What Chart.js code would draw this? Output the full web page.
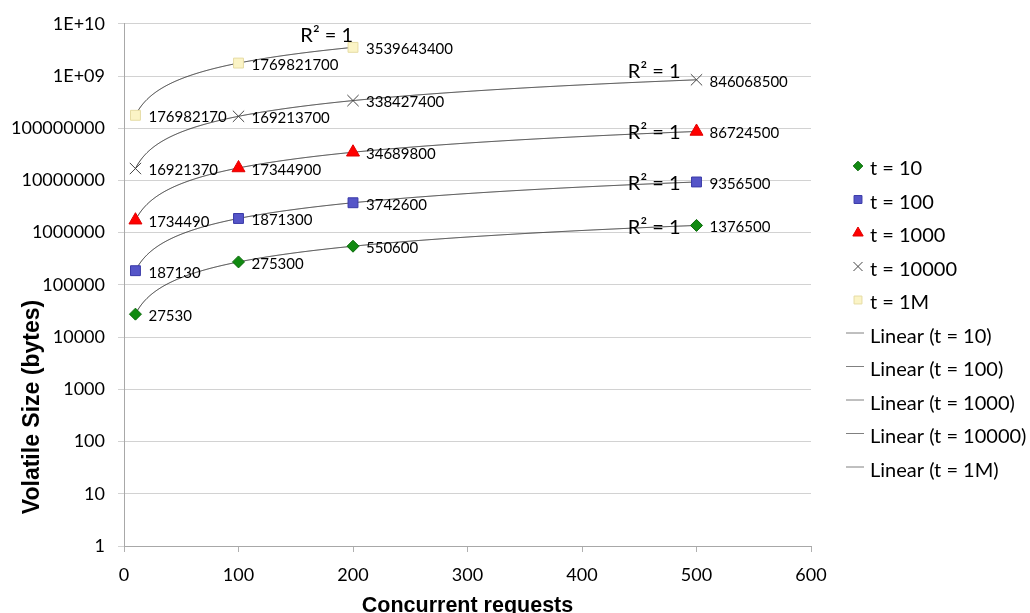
<!DOCTYPE html>
<html><head><meta charset="utf-8">
<script src="https://cdn.jsdelivr.net/npm/chart.js@4"></script>
<style>html,body{margin:0;padding:0;background:#fff}#wrap{width:1030px;height:613px}</style>
</head><body><div id="wrap"><canvas id="c" width="1030" height="613"></canvas></div>
<script>
// ---- data ----
const seriesNames = ['t = 10', 't = 100', 't = 1000', 't = 10000', 't = 1M'];
const trendNames = ['Linear (t = 10)', 'Linear (t = 100)', 'Linear (t = 1000)', 'Linear (t = 10000)', 'Linear (t = 1M)'];
const xValues = [10, 100, 200, 500];
const xValues1M = [10, 100, 200];
const t10 = [27530, 275300, 550600, 1376500];
const t100 = [187130, 1871300, 3742600, 9356500];
const t1000 = [1734490, 17344900, 34689800, 86724500];
const t10000 = [16921370, 169213700, 338427400, 846068500];
const t1M = [176982170, 1769821700, 3539643400];
const yTickValues = [1, 10, 100, 1000, 10000, 100000, 1000000, 10000000, 100000000, 1000000000, 10000000000];
const yTickLabels = ['1', '10', '100', '1000', '10000', '100000', '1000000', '10000000', '100000000', '1E+09', '1E+10'];
const rSquaredLabel = 'R\u00B2 = 1';

// ---- styles ----
const FONT = 'Lato, "Open Sans", sans-serif';
const styles = [
  {pointStyle: 'rectRot', radius: 6, bg: '#118a11', border: '#0a6a0a', lw: 1},
  {pointStyle: 'rect', radius: 7, bg: '#5555c8', border: '#3a3aa8', lw: 1},
  {pointStyle: 'triangle', radius: 7.5, bg: '#ff0000', border: '#e00000', lw: 1},
  {pointStyle: 'crossRot', radius: 8, bg: '#444444', border: '#444444', lw: 1},
  {pointStyle: 'rect', radius: 7, bg: '#fbf4c6', border: '#e6dca4', lw: 1}
];
const r2Offsets = [[-16, 2], [-16, 2], [-16, 1], [-16, -8], [0, -12]];

const xsList = [xValues, xValues, xValues, xValues, xValues1M];
const ysList = [t10, t100, t1000, t10000, t1M];

const datasets = ysList.map((ys, i) => ({
  label: seriesNames[i],
  data: ys.map((v, j) => ({x: xsList[i][j], y: v})),
  pointStyle: styles[i].pointStyle,
  pointRadius: styles[i].radius,
  pointHoverRadius: styles[i].radius,
  backgroundColor: styles[i].bg,
  borderColor: styles[i].border,
  pointBorderWidth: styles[i].lw,
  showLine: false
}));

function fitLinear(xs, ys) {
  const n = xs.length;
  let sx = 0, sy = 0, sxx = 0, sxy = 0;
  for (let i = 0; i < n; i++) { sx += xs[i]; sy += ys[i]; sxx += xs[i] * xs[i]; sxy += xs[i] * ys[i]; }
  const a = (n * sxy - sx * sy) / (n * sxx - sx * sx);
  const b = (sy - a * sx) / n;
  return {a, b};
}

function drawMarker(ctx, st, x, y, r) {
  ctx.save();
  ctx.fillStyle = st.bg; ctx.strokeStyle = st.border; ctx.lineWidth = st.lw;
  Chart.helpers.drawPoint(ctx, {pointStyle: st.pointStyle, rotation: 0, radius: r, borderWidth: st.lw}, x, y);
  ctx.restore();
}

const extras = {
  id: 'extras',
  beforeDatasetsDraw(chart) {
    const ctx = chart.ctx, xs = chart.scales.x, ysc = chart.scales.y;
    ctx.save();
    ctx.beginPath();
    ctx.rect(chart.chartArea.left, chart.chartArea.top, chart.chartArea.right - chart.chartArea.left, chart.chartArea.bottom - chart.chartArea.top);
    ctx.clip();
    ctx.strokeStyle = '#2a2a2a'; ctx.lineWidth = 1;
    ysList.forEach((ys, i) => {
      const xv = xsList[i];
      const f = fitLinear(xv, ys);
      const p0 = xs.getPixelForValue(Math.min(...xv));
      const p1 = xs.getPixelForValue(Math.max(...xv));
      ctx.beginPath();
      for (let px = p0; px <= p1 + 0.01; px += 0.5) {
        const xval = xs.getValueForPixel(px);
        const py = ysc.getPixelForValue(f.a * xval + f.b);
        if (px === p0) ctx.moveTo(px, py); else ctx.lineTo(px, py);
      }
      ctx.stroke();
    });
    ctx.restore();
  },
  afterDatasetsDraw(chart) {
    const ctx = chart.ctx;
    ctx.save();
    // data labels
    ctx.fillStyle = '#000';
    ctx.font = '15px ' + FONT;
    ctx.textBaseline = 'middle';
    ctx.textAlign = 'left';
    chart.data.datasets.forEach((ds, i) => {
      const meta = chart.getDatasetMeta(i);
      meta.data.forEach((pt, j) => {
        ctx.fillText(String(ds.data[j].y), pt.x + 13, pt.y + 2);
      });
    });
    // R² labels
    ctx.font = '20px ' + FONT;
    ctx.textAlign = 'right';
    chart.data.datasets.forEach((ds, i) => {
      const meta = chart.getDatasetMeta(i);
      const last = meta.data[meta.data.length - 1];
      ctx.fillText(rSquaredLabel, last.x + r2Offsets[i][0], last.y + r2Offsets[i][1]);
    });
    // legend
    const lx = 858, tx = 870, ly0 = 169, step = 33.5;
    ctx.font = '20px ' + FONT;
    ctx.textAlign = 'left';
    seriesNames.forEach((name, i) => {
      const y = ly0 + i * step;
      drawMarker(ctx, styles[i], lx, y - 3, styles[i].radius * 0.8);
      ctx.fillStyle = '#000';
      ctx.fillText(name, tx, y);
    });
    trendNames.forEach((name, i) => {
      const y = ly0 + (i + 5) * step;
      ctx.strokeStyle = '#808080'; ctx.lineWidth = 1;
      ctx.beginPath(); ctx.moveTo(846, y - 3.5); ctx.lineTo(864, y - 3.5); ctx.stroke();
      ctx.fillStyle = '#000';
      ctx.fillText(name, tx, y);
    });
    // axis titles
    ctx.textBaseline = 'alphabetic';
    ctx.textAlign = 'center';
    ctx.font = 'bold 21.5px "Liberation Sans", Arial, sans-serif';
    ctx.fillText('Concurrent requests', (chart.chartArea.left + chart.chartArea.right) / 2, 612);
    ctx.font = 'bold 23px "Liberation Sans", Arial, sans-serif';
    ctx.translate(39, 407);
    ctx.rotate(-Math.PI / 2);
    ctx.fillText('Volatile Size (bytes)', 0, 0);
    ctx.restore();
  }
};

new Chart(document.getElementById('c'), {
  type: 'scatter',
  data: {datasets},
  options: {
    responsive: false,
    animation: false,
    devicePixelRatio: 1,
    layout: {padding: {top: 21, right: 219, left: 0, bottom: 0}},
    plugins: {legend: {display: false}, tooltip: {enabled: false}},
    scales: {
      x: {
        type: 'linear', min: 0, max: 600,
        ticks: {stepSize: 100, color: '#000', font: {family: FONT, size: 18}, padding: 12},
        grid: {drawOnChartArea: false, drawTicks: true, tickLength: 6, color: '#b0b0b0'},
        border: {color: '#a8a8a8'},
        afterFit(s) { s.height = 67; }
      },
      y: {
        type: 'logarithmic', min: 1, max: 10000000000,
        afterBuildTicks(s) { s.ticks = yTickValues.map(v => ({value: v})); },
        ticks: {
          color: '#000', font: {family: FONT, size: 18}, padding: 13,
          callback(v) { const k = yTickValues.indexOf(v); return k >= 0 ? yTickLabels[k] : ''; }
        },
        grid: {color: '#d2d2d2', tickLength: 6},
        border: {color: '#a8a8a8'},
        afterFit(s) { s.width = 124; }
      }
    }
  },
  plugins: [extras]
});
</script>
</body></html>
